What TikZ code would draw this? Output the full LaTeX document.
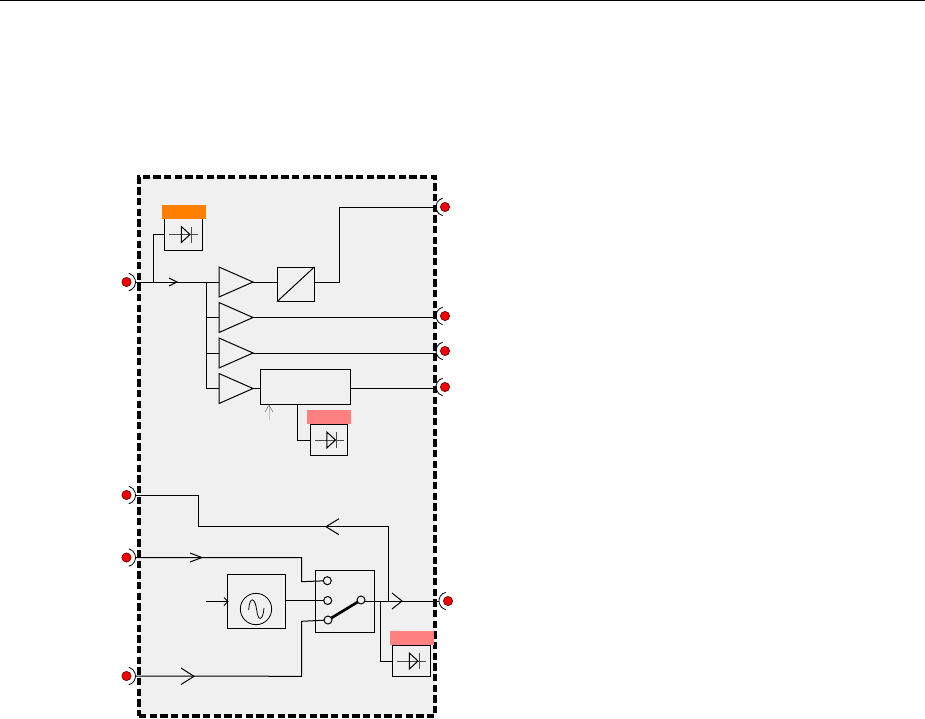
\documentclass[tikz,border=0pt]{standalone}
\usepackage{tikz}
\usetikzlibrary{arrows.meta,positioning,shapes.geometric,calc}
\definecolor{PanelGray}{RGB}{240,240,240}
\definecolor{TagOrange}{RGB}{255,128,0}
\definecolor{TagPink}{RGB}{255,128,128}
\definecolor{PortRed}{RGB}{245,0,0}

\begin{document}
\begin{tikzpicture}[
    x=0.75pt, y=-0.75pt,
    wire/.style={line width=0.75pt, draw=black},
    blockbox/.style={draw=black, line width=0.75pt, inner sep=0pt, outer sep=0pt, anchor=north west},
    diodebox/.style={draw=black, line width=0.75pt, inner sep=0pt, outer sep=0pt, minimum width=28pt, minimum height=23.5pt},
    tagbar/.style={inner sep=0pt, outer sep=0pt, minimum width=33pt, minimum height=10.5pt},
    amp/.style={draw=black, line width=0.75pt, isosceles triangle, isosceles triangle stretches, inner sep=0pt, outer sep=0pt, minimum width=22.5pt, minimum height=25.5pt, anchor=west},
    portdot/.style={circle, fill=PortRed, draw=black!70!red, line width=0.4pt, inner sep=0pt, minimum size=7pt, outer sep=3.2pt},
    contact/.style={circle, draw=black, fill=PanelGray, line width=0.75pt, inner sep=0pt, minimum size=6pt, outer sep=0pt},
    openhead/.style={line width=0.75pt, draw=black}
  ]
    \useasboundingbox (0,0) rectangle (925,718);
    \draw[line width=0.75pt] (0,0.5) -- (925,0.5);

    \node[draw=black, line width=2.4pt, dash pattern=on 5.5pt off 2.5pt, fill=PanelGray, inner sep=0pt, outer sep=0pt, minimum width=222pt, minimum height=404.25pt, anchor=north west] (panel) at (139,177) {};

    % ports round the panel
    \foreach \pname/\px/\py/\pangle in {inrf/126.5/282/0, inup/126.5/495/0, inmid/126.5/557.5/0, inlow/126.5/676/0, outa/445/207/180, outb/445/316/180, outc/445/351/180, outd/445/387/180, oute/448/601/180} {
      \node[portdot] (\pname) at (\px,\py) {};
      \draw[line width=0.6pt] ([shift={(\pangle-75:6.8pt)}]\pname.center) arc[start angle=\pangle-75, end angle=\pangle+75, radius=6.8pt];
    }

    % upper chain
    \node[amp] (ampa) at (219,282) {};
    \node[amp] (ampb) at (219,317.5) {};
    \node[amp] (ampc) at (219,353) {};
    \node[amp] (ampd) at (219,388.5) {};
    \node[blockbox, minimum width=28pt, minimum height=26pt] (conv) at (277,267) {};
    \draw[wire] (conv.south west) -- (conv.north east);
    \node[blockbox, minimum width=68pt, minimum height=26.5pt] (mixer) at (260,369) {};

    % detector blocks with their tags
    \foreach \dname/\dx/\dy/\dcol in {deta/183.5/234.5/TagOrange, detb/329/440/TagPink, detc/411.5/661/TagPink} {
      \node[diodebox] (\dname) at (\dx,\dy) {};
      \node[tagbar, fill=\dcol, above=0pt of \dname] (\dname tag) {};
      \begin{scope}[shift={(\dname.center)}]
        \draw[line width=0.5pt, draw=black!70] (-14.5,0) -- (14.5,0);
        \draw[line width=0.75pt] (-2.2,-8) -- (6.5,0) -- (-2.2,8) -- cycle;
        \draw[line width=0.5pt, draw=black!70] (7.5,-8) -- (7.5,8);
      \end{scope}
    }

    \coordinate (tapa) at (153,282);
    \coordinate (feed) at (206.7,282);
    \draw[wire] (inrf.east) -- (ampa.west);
    \draw[wire] (tapa) |- (deta.west);
    \draw[wire] (feed) |- (ampb.west);
    \draw[wire] (feed) |- (ampc.west);
    \draw[wire] (feed) |- (ampd.west);
    \draw[openhead] (169,278) -- (177,282) -- (169,286);
    \draw[wire] (ampa.east) -- (conv.west |- ampa.east);
    \draw[wire] (conv.east |- ampa.east) -- (339,282) -- (339,207) -- (outa.west);
    \draw[wire] (ampb.east) -- (ampb.east -| outb.west);
    \draw[wire] (ampc.east) -- (ampc.east -| outc.west);
    \draw[wire] (ampd.east) -- (mixer.west |- ampd.east);
    \draw[wire] (mixer.east |- ampd.east) -- (ampd.east -| outd.west);
    \draw[wire] (mixer.south -| 297.7,0) |- (detb.west);
    \draw[line width=0.75pt, draw=black!25] (269,420) -- (269,405);
    \draw[line width=0.5pt, draw=black!45] (265,412) -- (269,405) -- (273,412);

    % lower chain
    \node[blockbox, minimum width=43.5pt, minimum height=41pt] (osc) at (227,574) {};
    \node[circle, draw=black, line width=0.6pt, inner sep=0pt, minimum size=23.5pt] (sine) at (256,609) {};
    \draw[line width=0.6pt] (248.7,610) .. controls (249.5,596) and (255,597) .. (256.7,610) .. controls (258,622) and (263,621) .. (264,608);
    \node[blockbox, minimum width=44pt, minimum height=46.5pt] (switch) at (315.7,570.7) {};
    \node[contact] (cona) at (327.3,580.7) {};
    \node[contact] (conb) at (327.7,600.5) {};
    \node[contact] (conc) at (328,620) {};
    \node[contact] (cond) at (361,600) {};
    \draw[line width=2pt] (conc) -- (cond);

    \coordinate (osctune) at (206,601.5);
    \draw[wire] (osctune) -- (osc.west |- osctune);
    \draw[openhead] (224,597.5) -- (228,601.5) -- (224,605.5);
    \draw[wire] (osc.east |- conb) -- (conb);

    \draw[wire] (inup.east) -- (198,495) -- (198,526.7) -- (388.7,526.7) -- (388.7,601);
    \draw[openhead] (339,518.7) -- (326,526.7) -- (339,534.7);
    \draw[wire] (inmid.east) -- (301.7,557.5) -- (301.7,581.7) -- (cona);
    \draw[openhead] (190,553) -- (202,557.5) -- (190,562);
    \draw[wire] (inlow.east) -- (301.7,676.3) -- (301.7,621.3) -- (conc);
    \draw[openhead] (181,668) -- (194,676.3) -- (181,684.5);

    \draw[wire] (cond.east |- oute) -- (oute.west);
    \draw[openhead] (392,593) -- (402,601) -- (392,609);
    \draw[wire] (380,601) |- (detc.west);
  \end{tikzpicture}
\end{document}
